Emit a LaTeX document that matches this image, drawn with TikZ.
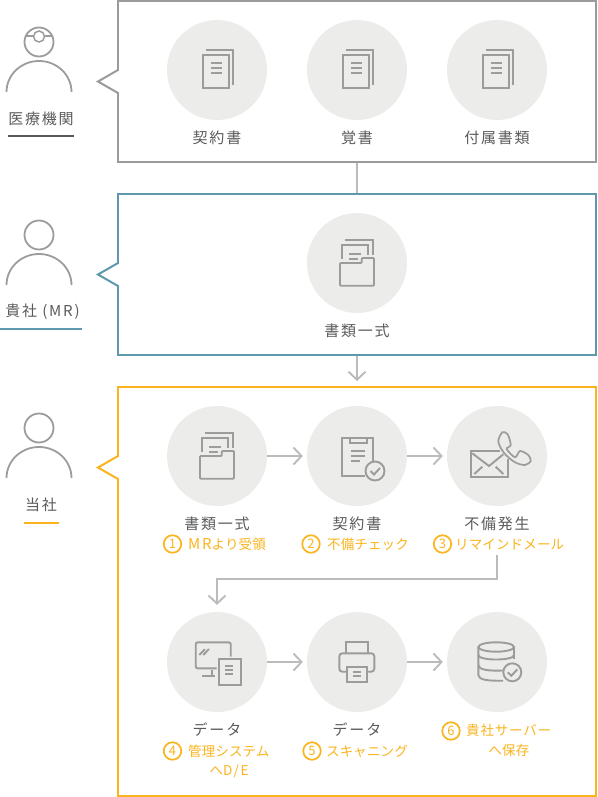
\documentclass[tikz,border=0pt]{standalone}
\usepackage{fontspec}
\setmainfont{Noto Sans CJK JP}[LetterSpace=1]
\newfontfamily\widefont{Noto Sans CJK JP}[LetterSpace=12]
\newfontfamily\midfont{Noto Sans CJK JP}[LetterSpace=6]
\usetikzlibrary{arrows.meta}
\definecolor{graybox}{HTML}{9B9B9B}
\definecolor{bluebox}{HTML}{5F98AC}
\definecolor{orangebox}{HTML}{FBB41E}
\definecolor{iconbg}{HTML}{ECECEB}
\definecolor{iconline}{HTML}{9C9C9C}
\definecolor{flowline}{HTML}{BBBBBB}
\definecolor{textgray}{HTML}{5A5A5A}
\tikzset{
  panel/.style={draw=#1, line width=2pt, fill=white, minimum width=478pt, minimum height=161pt, inner sep=0pt},
  tail/.style={draw=#1, line width=2pt, line join=miter},
  bgdisc/.style={circle, fill=iconbg, minimum size=100pt, inner sep=0pt},
  icon/.style={draw=iconline, line width=1.9pt},
  person/.style={draw=iconline, line width=1.8pt},
  title/.style={text=textgray, font=\widefont\fontsize{15}{18}\selectfont, inner sep=0pt},
  who/.style={text=textgray, font=\widefont\fontsize{15}{18}\selectfont, inner sep=0pt},
  sublabel/.style={text=orangebox, font=\fontsize{13.5}{16}\selectfont, inner sep=0pt, anchor=west},
  numdot/.style={circle, draw=orangebox, line width=1.7pt, text=orangebox, minimum size=17.5pt, inner sep=0pt, font=\fontsize{13}{14}\selectfont},
  flow/.style={draw=flowline, line width=1.9pt},
  flowtip/.style={flow, -{Straight Barb[length=8pt,width=17pt,line width=1.9pt]}},
  pics/docstack/.style={code={
    \draw[icon] (-14,-15) rectangle (12,18);
    \draw[icon] (-11,-20) -- (16,-20) -- (16,15);
    \draw[icon] (-6,-7) -- (5,-7) (-6,-2) -- (5,-2) (-6,3) -- (5,3);
  }},
  pics/folderdoc/.style={code={
    \draw[icon, rounded corners=1pt] (-17,0) -- (4.7,0) -- (4.7,-5) -- (17,-5) -- (17,22.7) -- (-17,22.7) -- cycle;
    \draw[icon] (-15,-3.7) -- (-15,-18.3) -- (11.3,-18.3) -- (11.3,-8.3);
    \draw[icon] (-12,-22.7) -- (15.7,-22.7) -- (15.7,-7.7);
    \draw[icon] (-7.7,-9.3) -- (3.7,-9.3) (-7.7,-4.3) -- (1.3,-4.3);
  }},
  pics/human/.style={code={
    \draw[person] (0,0) circle (14.5);
    \draw[person] (-32.5,50) arc (180:360:32.5 and 31);
  }},
}
\begin{document}
\begin{tikzpicture}[x=1pt, y=-1pt]
  \useasboundingbox (0,0) rectangle (597,797);

  % 枠
  \node[panel=graybox] (boxa) at (357,81.5) {};
  \node[panel=bluebox] (boxb) at (357,274.5) {};
  \node[panel=orangebox, minimum height=409pt] (boxc) at (357,591.5) {};
  \fill[white] (116,71) rectangle (120,92) (116,264) rectangle (120,285) (116,457) rectangle (120,478);
  \draw[tail=graybox] (118,70) -- (98,81.5) -- (118,93);
  \draw[tail=bluebox] (118,263) -- (98,274.5) -- (118,286);
  \draw[tail=orangebox] (118,456) -- (98,467.5) -- (118,479);

  % 人物
  \pic at (39,42) {human};
  \pic at (39,235) {human};
  \pic at (39,428) {human};
  \draw[person, line width=1.5pt] (25,36) -- (33,36) (45,36) -- (53,36);
  \draw[person, line width=1.5pt] (39,36.5) circle (5.5);
  \node[who] (whoa) at (41,118.5) {医療機関};
  \node[who] (whob) at (42.5,311.5) {貴社 (MR)};
  \node[who] (whoc) at (41,504.5) {当社};
  \draw[textgray, line width=2pt] (8,135.5) -- (74,135.5);
  \draw[bluebox, line width=2pt] (0,329) -- (82,329);
  \draw[orangebox, line width=2pt] (24,522.5) -- (59,522.5);

  % 丸
  \node[bgdisc] (ca) at (217,70) {};
  \node[bgdisc] (cb) at (357,70) {};
  \node[bgdisc] (cc) at (497,70) {};
  \node[bgdisc] (cd) at (357,263) {};
  \node[bgdisc] (c1) at (217,456) {};
  \node[bgdisc] (c2) at (357,456) {};
  \node[bgdisc] (c3) at (497,456) {};
  \node[bgdisc] (c4) at (217,662) {};
  \node[bgdisc] (c5) at (357,662) {};
  \node[bgdisc] (c6) at (497,662) {};

  % 矢印
  \draw[flow] (boxa) -- (boxb);
  \draw[flowtip, shorten >=5pt] (boxb) -- (boxc);
  \draw[flowtip, shorten >=4pt] (c1) -- (c2);
  \draw[flowtip, shorten >=4pt] (c2) -- (c3);
  \draw[flowtip, shorten >=4pt] (c4) -- (c5);
  \draw[flowtip, shorten >=4pt] (c5) -- (c6);
  \coordinate (turn) at (497,555);
  \draw[flowtip, shorten >=7pt] (turn) -- ++(0,24) -| (c4.north);

  % アイコン
  \pic at (ca) {docstack};
  \pic at (cb) {docstack};
  \pic at (cc) {docstack};
  \pic at (cd) {folderdoc};
  \pic at (c1) {folderdoc};

  % 契約書
  \begin{scope}[shift={(c2)}]
    \draw[icon] (-6.7,-17.7) -- (-14.7,-17.7) -- (-14.7,20.3) -- (8,20.3);
    \draw[icon] (9.7,-17.7) -- (16,-17.7) -- (16,5.7);
    \draw[icon] (-6.7,-17.7) rectangle (9.7,-13);
    \draw[icon] (-6,-5.3) -- (8,-5.3) (-6,-0.3) -- (8,-0.3) (-6,5) -- (3,5);
    \draw[icon] (18,15) circle (9.5);
    \draw[icon] (13.5,15) -- (17,18.5) -- (23,12);
  \end{scope}

  % メール
  \begin{scope}[shift={(c3)}]
    \draw[icon] (3,-5) -- (-26.3,-5) -- (-26.3,21.3) -- (10.7,21.3) -- (10.7,3);
    \draw[icon] (-24.7,-2.7) -- (-8,10) -- (6.3,-1.7);
    \draw[icon] (-22.7,18) -- (-14.7,10.7) (-1.3,10.7) -- (6.3,18);
    \draw[icon, line width=1.7pt, smooth cycle] plot coordinates {(1.3,-14.3) (5.3,-23.7) (10.7,-21.7) (13.7,-11) (9.7,-7) (18,1.3) (23,-5) (31.3,-1) (33.7,5) (28,9) (18,6.3) (7.3,-2.7)};
  \end{scope}

  % モニター
  \begin{scope}[shift={(c4)}]
    \draw[icon, rounded corners=2pt] (13.7,-5.3) -- (13.7,-19.7) -- (-21.3,-19.7) -- (-21.3,6.3) -- (-0.3,6.3);
    \draw[icon] (-14.7,14) -- (-2,14) (-5.3,8) -- (-5.3,14);
    \draw[icon] (-17.7,-7) -- (-12,-12.7) (-13.7,-7) -- (-8,-13);
    \draw[icon] (1.7,-3.3) rectangle (23.7,23.3);
    \draw[icon] (8.3,3.7) -- (16.3,3.7) (8.3,7.7) -- (16.3,7.7) (8.3,12) -- (16.3,12);
  \end{scope}

  % プリンター
  \begin{scope}[shift={(c5)}]
    \draw[icon] (-11.3,-8.7) -- (-11.3,-20.3) -- (11.3,-20.3) -- (11.3,-8.7);
    \draw[icon, rounded corners=3pt] (-10.3,9.7) -- (-17.7,9.7) -- (-17.7,-8.7) -- (17.3,-8.7) -- (17.3,9.7) -- (10.3,9.7);
    \draw[icon] (-10.3,5.3) rectangle (10.3,20);
    \draw[icon] (-4,10.3) -- (4,10.3) (-4,14) -- (4,14);
  \end{scope}

  % サーバー
  \begin{scope}[shift={(c6)}]
    \draw[icon] (-0.8,-15) ellipse (17.8 and 4.7);
    \draw[icon] (-18.7,-15) -- (-18.7,13) .. controls (-18.7,18) and (-8,19) .. (6,18.7);
    \draw[icon] (17,-15) -- (17,-3);
    \draw[icon] (-18.7,-7) .. controls (-18.7,-1) and (17,-1) .. (17,-7);
    \draw[icon] (-18.7,3) .. controls (-18.7,8) and (-8,9) .. (6,8.5);
    \draw[icon] (15.3,10.3) circle (9);
    \draw[icon] (10.8,10.3) -- (14.3,13.8) -- (20.3,7.3);
  \end{scope}

  % 文字
  \node[title] (ta) at (217,137.5) {契約書};
  \node[title] (tb) at (357,137.5) {覚書};
  \node[title] (tc) at (497,137.5) {付属書類};
  \node[title] (td) at (357,330.5) {書類一式};
  \node[title] (t1) at (217,523.5) {書類一式};
  \node[title] (t2) at (357,523.5) {契約書};
  \node[title] (t3) at (497,523.5) {不備発生};
  \node[title] (t4) at (217,729.5) {データ};
  \node[title] (t5) at (357,729.5) {データ};

  \node[numdot] (n1) at (172.5,544) {1};
  \node[numdot] (n2) at (311,544) {2};
  \node[numdot] (n3) at (442.5,544) {3};
  \node[numdot] (n4) at (172.5,751) {4};
  \node[numdot] (n5) at (312,751) {5};
  \node[numdot] (n6) at (451,731) {6};

  \node[sublabel] (s1) at (188,544.5) {{\widefont\fontsize{15}{16}\selectfont MR}より受領};
  \node[sublabel] (s2) at (327,544.5) {不備チェック};
  \node[sublabel] (s3) at (455,544.5) {リマインドメール};
  \node[sublabel] (s4) at (188,751.5) {管理システム};
  \node[sublabel, anchor=center] (s4b) at (229,771.5) {へ{\widefont D/E}};
  \node[sublabel] (s5) at (326,751.5) {スキャニング};
  \node[sublabel, font=\midfont\fontsize{13.5}{16}\selectfont] (s6) at (466,730.5) {貴社サーバー};
  \node[sublabel, anchor=center] (s6b) at (509,750.5) {へ保存};
\end{tikzpicture}
\end{document}
